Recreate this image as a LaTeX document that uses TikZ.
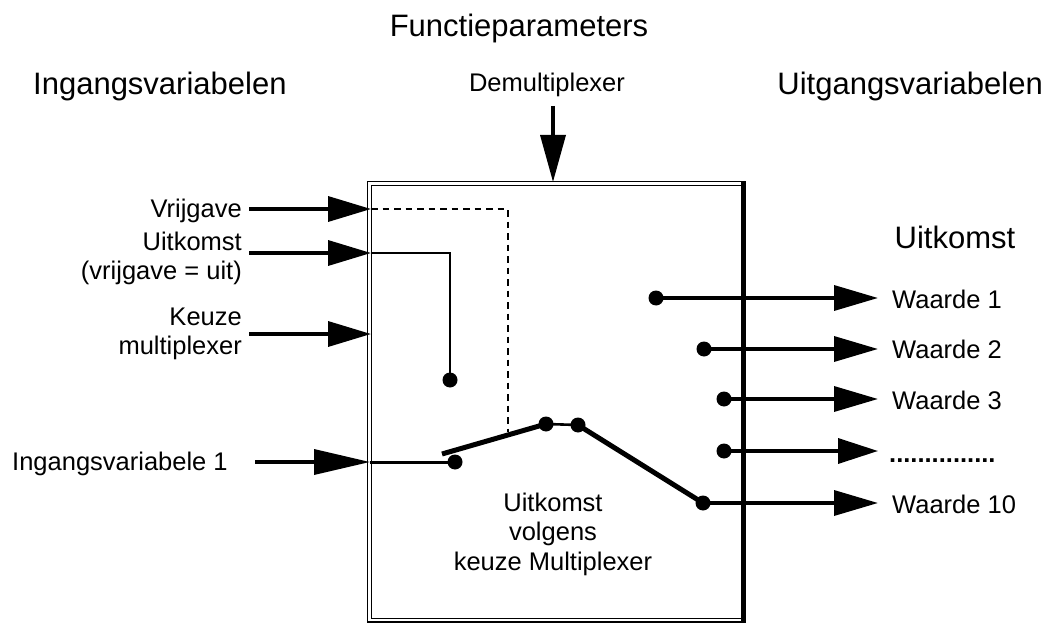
\documentclass[tikz,border=0pt]{standalone}
\usepackage{fontspec}
\setmainfont{Liberation Sans}
\usetikzlibrary{arrows.meta}
\tikzset{
  big/.style={font=\fontsize{31}{36}\selectfont, inner sep=0pt},
  lab/.style={font=\fontsize{25.5}{30}\selectfont, inner sep=0pt},
  dot/.style={circle, fill=black, inner sep=0pt, minimum size=15pt},
  inarrow/.style={line width=3.5pt, -{Triangle[length=43pt,width=25pt]}},
  longarrow/.style={line width=3.5pt, -{Triangle[length=56pt,width=25pt]}},
  outarrow/.style={line width=3.5pt, -{Triangle[length=44pt,width=25pt]}},
  thinwire/.style={line width=2.6pt},
  lever/.style={line width=5pt},
  boxline/.style={line width=1.4pt}
}
\begin{document}
\begin{tikzpicture}[x=1pt,y=-1pt]
\useasboundingbox (0,0) rectangle (1050,623);
% titles
\node[big, anchor=base] (tfun) at (519,37) {Functieparameters};
\node[big, anchor=base west] (tin) at (33,95) {Ingangsvariabelen};
\node[big, anchor=base east] (tout) at (1043,95) {Uitgangsvariabelen};
\node[lab, anchor=base] (tdem) at (547,92) {Demultiplexer};
\node[big, anchor=base] (tuit) at (955,248) {Uitkomst};
% box
\draw[boxline] (367.5,181.5) rectangle (745,622);
\draw[boxline] (371.5,185.5) rectangle (741.5,618.3);
\draw[line width=4.5pt] (743,181) -- (743,622.8);
% demultiplexer arrow
\coordinate (demS) at (553,106);
\coordinate (demE) at (553,182);
\draw[line width=3.5pt, -{Triangle[length=47pt,width=25pt]}] (demS) -- (demE);
% left labels
\node[lab, anchor=base east] (lvrij) at (242,218) {Vrijgave};
\node[lab, anchor=base east] (luit1) at (242,250) {Uitkomst};
\node[lab, anchor=base east] (luit2) at (242,279) {(vrijgave = uit)};
\node[lab, anchor=base east] (lkeu1) at (242,325) {Keuze};
\node[lab, anchor=base east] (lkeu2) at (242,354) {multiplexer};
\node[lab, anchor=base west] (ling) at (12,470) {Ingangsvariabele 1};
% input arrows
\coordinate (vrijS) at (249,209); \coordinate (vrijE) at (371,209);
\coordinate (uitS) at (249,253);  \coordinate (uitE) at (371,253);
\coordinate (keuS) at (249,334);  \coordinate (keuE) at (371,334);
\coordinate (ingS) at (255,462);  \coordinate (ingE) at (370,462);
\draw[inarrow] (vrijS) -- (vrijE);
\draw[inarrow] (uitS) -- (uitE);
\draw[inarrow] (keuS) -- (keuE);
\draw[longarrow] (ingS) -- (ingE);
% inner dots
\node[dot] (du) at (450,380) {};
\node[dot] (di) at (455,462) {};
\node[dot] (m1) at (546,424) {};
\node[dot] (m2) at (578,425) {};
\node[dot] (o1) at (656,298) {};
\node[dot] (o2) at (704,349) {};
\node[dot] (o3) at (724,399) {};
\node[dot] (o4) at (724,451) {};
\node[dot] (o5) at (703,503) {};
% inner wires
\coordinate (uitC) at (450,253);
\draw[thinwire] (uitE) -- (uitC) -- (du.center);
\draw[line width=3pt] (ingE) -- (di.center);
\coordinate (dashC) at (508,209);
\coordinate (dashE) at (508,432);
\draw[line width=2.8pt, dash pattern=on 6.5pt off 5pt] (vrijE) -- (dashC) -- (dashE);
% lever
\coordinate (lev0) at (442,454);
\draw[lever] (lev0) -- (m1.center);
\draw[thinwire] (m1.center) -- (m2.center);
\draw[lever] (m2.center) -- (o5.center);
% output arrows
\coordinate (a1) at (878,298);
\coordinate (a2) at (878,349);
\coordinate (a3) at (878,399);
\coordinate (a4) at (878,451);
\coordinate (a5) at (878,503);
\draw[outarrow] (o1.center) -- (a1);
\draw[outarrow] (o2.center) -- (a2);
\draw[outarrow] (o3.center) -- (a3);
\draw[line width=3.5pt, -{Triangle[length=40pt,width=25pt]}] (o4.center) -- (a4);
\draw[outarrow] (o5.center) -- (a5);
% output labels
\node[lab, anchor=base west] (w1) at (892,308) {Waarde 1};
\node[lab, anchor=base west] (w2) at (892,358) {Waarde 2};
\node[lab, anchor=base west] (w3) at (892,409) {Waarde 3};
\node[lab, anchor=base west] (w4) at (889,462) {\textbf{...............}};
\node[lab, anchor=base west] (w5) at (892,513) {Waarde 10};
% center text
\node[lab, anchor=base] (c1) at (553,511) {Uitkomst};
\node[lab, anchor=base] (c2) at (553,540) {volgens};
\node[lab, anchor=base] (c3) at (553,570) {keuze Multiplexer};
\end{tikzpicture}
\end{document}
